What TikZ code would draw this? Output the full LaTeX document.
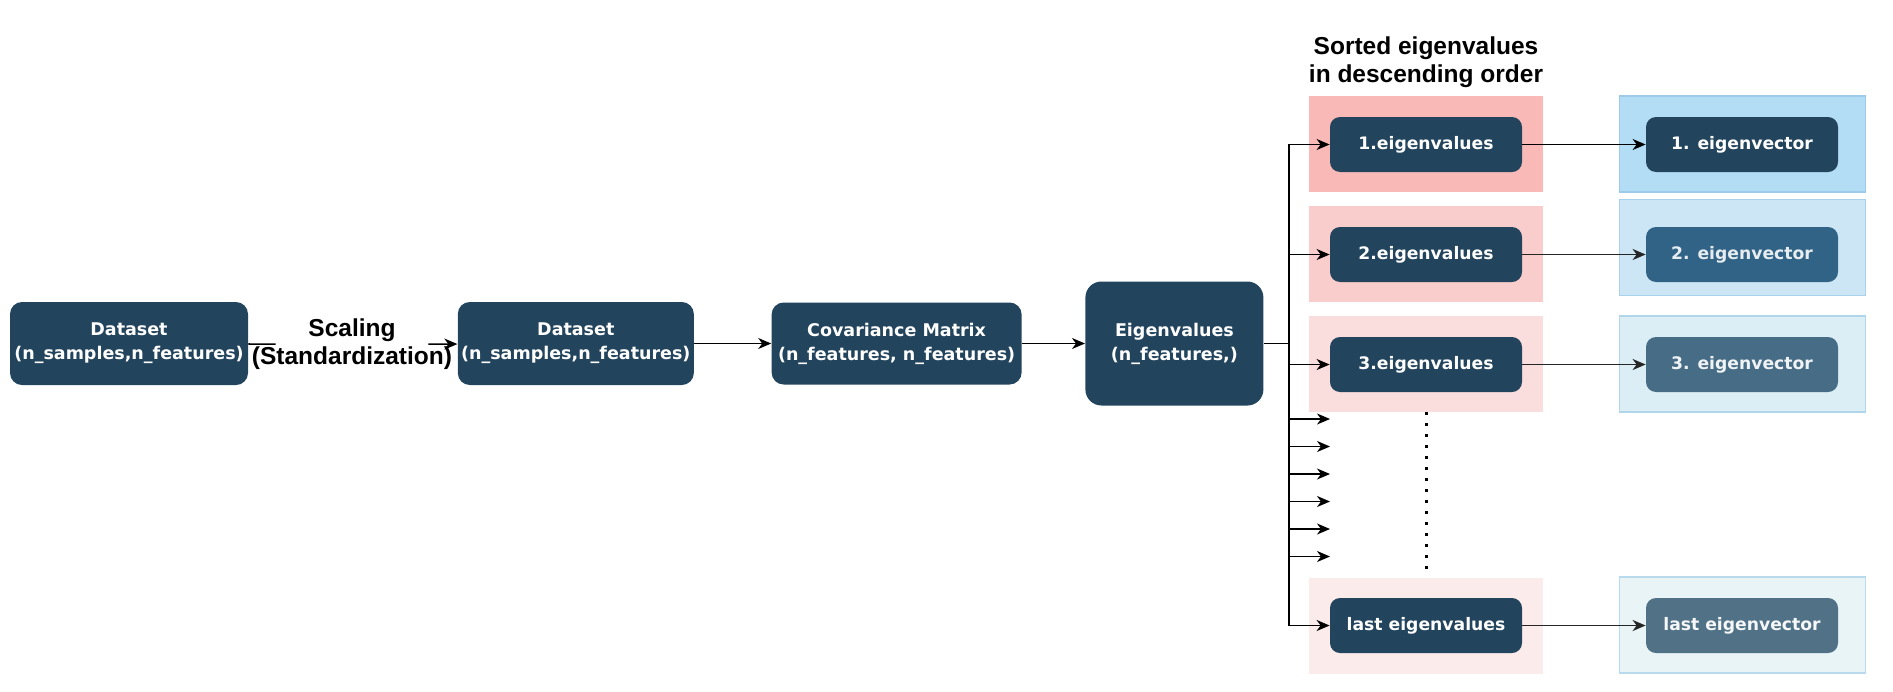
\documentclass[tikz,border=0pt]{standalone}
\usepackage{fontspec}
\setmainfont{DejaVu Sans}
\newfontfamily\lblfont{Liberation Sans}
\usepackage{tikz}
\usetikzlibrary{arrows.meta,positioning}

\definecolor{navy}{HTML}{23445D}
\definecolor{vecB}{HTML}{316386}
\definecolor{vecC}{HTML}{466C86}
\definecolor{vecD}{HTML}{507186}
\definecolor{pinkA}{HTML}{F9B9B7}
\definecolor{pinkB}{HTML}{F9CDCC}
\definecolor{pinkC}{HTML}{FADDDD}
\definecolor{pinkD}{HTML}{FBEBEB}
\definecolor{blueA}{HTML}{B3DCF5}
\definecolor{blueB}{HTML}{CCE6F5}
\definecolor{blueC}{HTML}{DCEEF5}
\definecolor{blueD}{HTML}{E8F4F5}
\definecolor{edgeA}{HTML}{9CCAE8}
\definecolor{edgeB}{HTML}{A8D1EB}
\definecolor{edgeC}{HTML}{B0D6EB}
\definecolor{edgeD}{HTML}{B8DAEC}

\begin{document}
\begin{tikzpicture}[
            %scale=1,
            x=0.5pt, y=-0.5pt,
            node distance=30pt,
            arr/.style={-{Stealth[length=6.5pt,width=5.5pt,inset=2pt]},line width=0.8pt},
            step box/.style={rectangle,rounded corners=6pt,fill=navy,text=white,align=center,
              inner sep=0pt,font=\bfseries\fontsize{8.75}{12}\selectfont},
            eval/.style={rectangle,rounded corners=5pt,fill=navy,text=white,inner sep=0pt,
              minimum width=96pt,minimum height=27.5pt,font=\bfseries\fontsize{8.6}{10}\selectfont},
            evec/.style={eval,fill=#1},
            pinkbg/.style={rectangle,fill=#1,minimum width=117pt,minimum height=48pt,inner sep=0pt},
            bluebg/.style={rectangle,fill=#1,line width=0.75pt,minimum width=123pt,minimum height=48pt,inner sep=0pt},
            lbl/.style={align=center,font=\lblfont\bfseries\fontsize{12.25}{14}\selectfont}
          ]
          \useasboundingbox (0,0) rectangle (1893,691);

          % main chain
          \node[step box, minimum width=119pt, minimum height=41.5pt] (ds1) at (129,343.5) {Dataset\\(n\_samples,n\_features)};
          \node[step box, minimum width=118pt, minimum height=41.5pt, right=104.5pt of ds1] (ds2) {Dataset\\(n\_samples,n\_features)};
          \node[step box, minimum width=125pt, minimum height=41pt, right=38.5pt of ds2] (cov) {Covariance Matrix\\(n\_features, n\_features)};
          \node[step box, rounded corners=8pt, minimum width=89pt, minimum height=62pt, right=31.5pt of cov] (eig) {Eigenvalues\\(n\_features,)};
          \node[lbl, inner xsep=-12pt] (scl) at (352,344.5) {Scaling\\(Standardization)};

          \draw[line width=0.8pt] (ds1) -- (scl);
          \draw[arr] (scl) -- (ds2);
          \draw[arr] (ds2) -- (cov);
          \draw[arr] (cov) -- (eig);

          % sorted eigenvalues
          \node[lbl] (ttl) at (1426,62.5) {Sorted eigenvalues\\in descending order};
          \node[pinkbg=pinkA] (p1) at (1426,144) {};
          \node[pinkbg=pinkB] (p2) at (1426,254) {};
          \node[pinkbg=pinkC] (p3) at (1426,364) {};
          \node[pinkbg=pinkD] (p4) at (1426,625.5) {};
          \node[bluebg=blueA, draw=edgeA] (b1) at (1742.5,144) {};
          \node[bluebg=blueB, draw=edgeB] (b2) at (1742.5,247.5) {};
          \node[bluebg=blueC, draw=edgeC] (b3) at (1742.5,364) {};
          \node[bluebg=blueD, draw=edgeD] (b4) at (1742.5,625) {};

          \node[eval] (e1) at (1426,144.5) {1.eigenvalues};
          \node[eval] (e2) at (1426,254.5) {2.eigenvalues};
          \node[eval] (e3) at (1426,364.5) {3.eigenvalues};
          \node[eval] (e4) at (1426,625.5) {last eigenvalues};
          \node[evec=navy] (v1) at (1742,144.5) {1. eigenvector};
          \node[evec=vecB, text=white!88!vecB] (v2) at (1742,254.5) {2. eigenvector};
          \node[evec=vecC, text=white!92!vecC] (v3) at (1742,364.5) {3. eigenvector};
          \node[evec=vecD, text=white!94!vecD] (v4) at (1742,625.5) {last eigenvector};

          \coordinate (bus) at (1289,343.5);
          \draw[line width=0.8pt] (eig) -- (bus);
          \draw[arr] (bus) |- (e1);
          \draw[arr] (bus) |- (e2);
          \draw[arr] (bus) |- (e3);
          \draw[arr] (bus) |- (e4);
          \foreach \y [count=\i] in {419,446.5,474,501.5,529,556.5} {
            \coordinate (tip\i) at (1330,\y);
            \draw[arr] (bus |- tip\i) -- (tip\i);
          }
          \draw[line width=1.5pt, dash pattern=on 1.5pt off 4pt] (p3.south) -- (p4.north);

          \draw[arr] (e1) -- (v1);
          \draw[arr, draw=black!85] (e2) -- (v2);
          \draw[arr, draw=black!85] (e3) -- (v3);
          \draw[arr, draw=black!85] (e4) -- (v4);
        \end{tikzpicture}
\end{document}
